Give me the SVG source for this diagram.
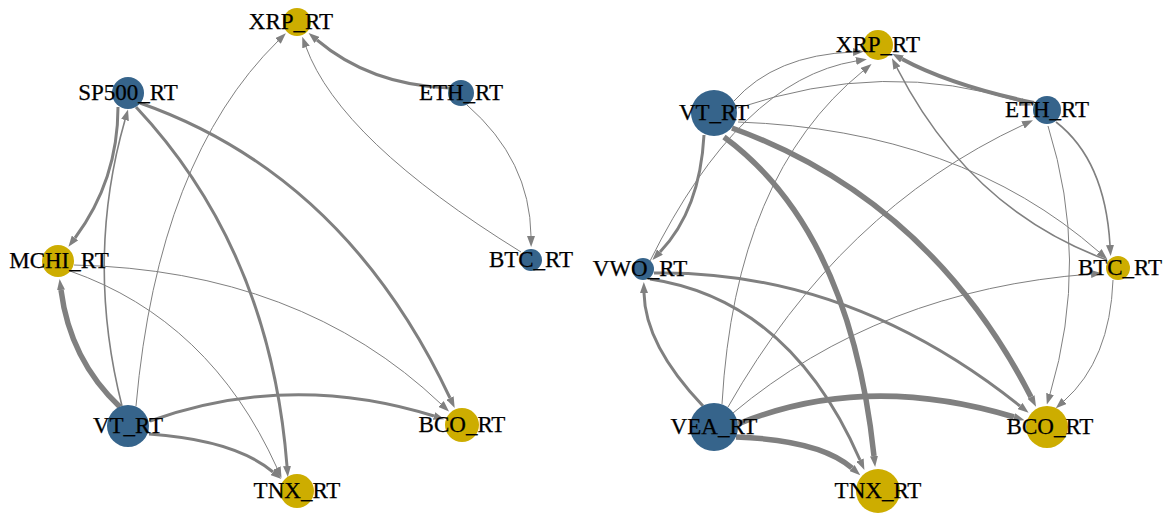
<svg xmlns="http://www.w3.org/2000/svg" width="1168" height="513" viewBox="0 0 1168 513">
  <style>
    .e { fill: none; stroke: #808080; marker-end: url(#arr); }
    .w1 { stroke-width: 1; }
    .w2 { stroke-width: 1.6; }
    .w3 { stroke-width: 3; }
    .w4 { stroke-width: 4; }
    .w5 { stroke-width: 5.5; }
    .blue { fill: #36648B; }
    .gold { fill: #CDAD00; }
    text { font-family: "Liberation Serif", "Times New Roman", serif; font-size: 23px; fill: #000; stroke: #000; stroke-width: 0.25; text-anchor: middle; }
  </style>
  <defs>
    <marker id="arr" markerUnits="userSpaceOnUse" markerWidth="11" markerHeight="8" viewBox="0 0 11 8" refX="0" refY="4" orient="auto">
      <path d="M0,0 L11,4 L0,8 z" fill="#808080"/>
    </marker>
  </defs>
  <rect width="1168" height="513" fill="#fff"/>

  <!-- left network: edges -->
  <g id="left-edges">
    <path class="e w3" d="M449,88 Q370,85 317,40"/>
    <path class="e w1" d="M467,105 Q530,160 531,236"/>
    <path class="e w1" d="M521,252 Q340,140 306,47"/>
    <path class="e w1" d="M136,406 Q158,159 278,41"/>
    <path class="e w3" d="M118,107 Q118,180 75,238"/>
    <path class="e w2" d="M122,406 Q85,260 125,120"/>
    <path class="e w3" d="M136,107 Q270,250 287,466"/>
    <path class="e w3" d="M140,103 Q345,175 450,398"/>
    <path class="e w5" d="M120,407 Q70,360 61,290"/>
    <path class="e w1" d="M74,265 Q300,270 441,404"/>
    <path class="e w1" d="M70,271 Q210,320 277,468"/>
    <path class="e w3" d="M150,421 Q290,371 434,416"/>
    <path class="e w3" d="M149,434 Q235,440 273,472"/>
  </g>

  <!-- right network: edges -->
  <g id="right-edges">
    <path class="e w4" d="M1034,103 Q950,85 902,59"/>
    <path class="e w2" d="M1056,122 Q1105,160 1110,245"/>
    <path class="e w1" d="M1048,126 Q1090,260 1050,394"/>
    <path class="e w2" d="M1107,260 Q970,210 897,68"/>
    <path class="e w1" d="M1113,280 Q1110,360 1064,401"/>
    <path class="e w1" d="M734,101 Q775,55 853,52"/>
    <path class="e w1" d="M650,261 Q740,80 856,61"/>
    <path class="e w1" d="M722,404 Q735,175 863,71"/>
    <path class="e w1" d="M738,108 Q885,58 1021,102"/>
    <path class="e w1" d="M738,122 Q960,130 1099,252"/>
    <path class="e w3" d="M704,135 Q700,210 660,252"/>
    <path class="e w5" d="M724,137 Q850,230 874,456"/>
    <path class="e w5" d="M732,128 Q930,200 1031,397"/>
    <path class="e w3" d="M654,273 Q850,270 1020,406"/>
    <path class="e w3" d="M650,279 Q790,300 860,460"/>
    <path class="e w3" d="M703,406 Q645,345 644,293"/>
    <path class="e w1" d="M728,407 Q840,210 1023,125"/>
    <path class="e w1" d="M733,413 Q880,290 1091,274"/>
    <path class="e w5" d="M738,424 Q865,372 1014,417"/>
    <path class="e w5" d="M736,437 Q820,440 852,468"/>
  </g>

  <!-- left network: nodes -->
  <g id="l-xrp"><circle class="gold" cx="297" cy="22" r="14"/><text x="291" y="29">XRP_RT</text></g>
  <g id="l-sp500"><circle class="blue" cx="128" cy="93" r="16"/><text x="128" y="100">SP500_RT</text></g>
  <g id="l-eth"><circle class="blue" cx="461" cy="93" r="13"/><text x="461" y="100">ETH_RT</text></g>
  <g id="l-mchi"><circle class="gold" cx="58" cy="261" r="16"/><text x="59" y="268">MCHI_RT</text></g>
  <g id="l-btc"><circle class="blue" cx="531" cy="260" r="11"/><text x="531" y="267">BTC_RT</text></g>
  <g id="l-vt"><circle class="blue" cx="128" cy="426" r="21"/><text x="128" y="433">VT_RT</text></g>
  <g id="l-bco"><circle class="gold" cx="462" cy="425" r="17"/><text x="462" y="432">BCO_RT</text></g>
  <g id="l-tnx"><circle class="gold" cx="297" cy="491" r="17"/><text x="297" y="498">TNX_RT</text></g>

  <!-- right network: nodes -->
  <g id="r-xrp"><circle class="gold" cx="878" cy="45" r="15"/><text x="878" y="52">XRP_RT</text></g>
  <g id="r-vt"><circle class="blue" cx="714" cy="113" r="23"/><text x="714" y="120">VT_RT</text></g>
  <g id="r-eth"><circle class="blue" cx="1047" cy="110" r="14"/><text x="1047" y="117">ETH_RT</text></g>
  <g id="r-vwo"><circle class="blue" cx="643" cy="269" r="11"/><text x="640" y="276">VWO_RT</text></g>
  <g id="r-btc"><circle class="gold" cx="1118" cy="268" r="12"/><text x="1120" y="275">BTC_RT</text></g>
  <g id="r-vea"><circle class="blue" cx="714" cy="427" r="24"/><text x="714" y="434">VEA_RT</text></g>
  <g id="r-bco"><circle class="gold" cx="1047" cy="427" r="21"/><text x="1050" y="434">BCO_RT</text></g>
  <g id="r-tnx"><circle class="gold" cx="878" cy="491" r="22"/><text x="878" y="498">TNX_RT</text></g>
</svg>
